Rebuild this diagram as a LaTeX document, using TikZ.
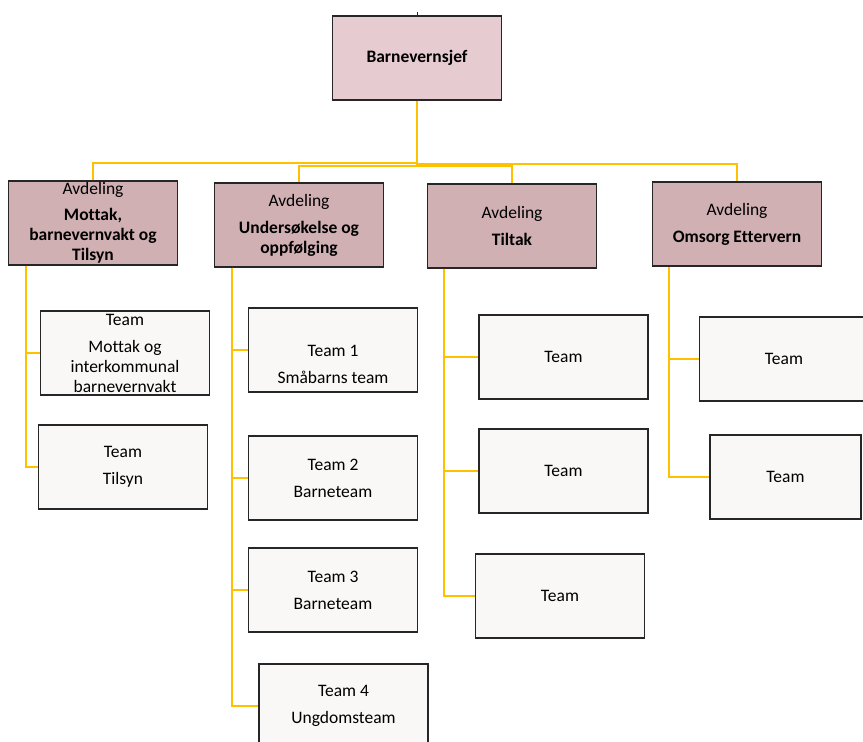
\documentclass[tikz,border=0pt]{standalone}
\usepackage{fontspec}
\setmainfont{Carlito}[Ligatures=NoCommon]
\usetikzlibrary{calc}
\definecolor{chieffill}{HTML}{E6CBD0}
\definecolor{deptfill}{HTML}{D1B0B4}
\definecolor{teamfill}{HTML}{F9F8F6}
\definecolor{linkcol}{HTML}{FFC000}
\definecolor{edgecol}{HTML}{262626}
\tikzset{
  box/.style={draw=edgecol,line width=1.4pt,minimum width=169pt,minimum height=84pt,
    inner sep=0pt,align=center,text=black,font=\fontsize{17.5}{20}\selectfont},
  chief/.style={box,fill=chieffill,font=\fontsize{17.5}{20}\selectfont\bfseries},
  dept/.style={box,fill=deptfill},
  team/.style={box,fill=teamfill},
  link/.style={draw=linkcol,line width=1.7pt},
}

\begin{document}
\begin{tikzpicture}[x=1pt,y=-1pt]
  \useasboundingbox[fill=white] (0,0) rectangle (863,742);

  % top
  \node[chief] (chief) at (417,58) {Barnevernsjef};
  \draw[edgecol,line width=1pt] (chief.north) -- ++(0,-3);

  % avdelinger
  \node[dept] (d1) at (93,223)  {Avdeling\\[6pt]\textbf{Mottak,}\\\textbf{barnevernvakt og}\\\textbf{Tilsyn}};
  \node[dept] (d2) at (299,225) {Avdeling\\[7pt]\textbf{Undersøkelse og}\\\textbf{oppfølging}};
  \node[dept] (d3) at (512,226) {Avdeling\\[7pt]\textbf{Tiltak}};
  \node[dept] (d4) at (737,224) {Avdeling\\[7pt]\textbf{Omsorg Ettervern}};

  % teams
  \node[team] (t1a) at (125,353) {Team\\[7pt]Mottak og\\interkommunal\\barnevernvakt};
  \node[team] (t1b) at (123,467) {Team\\[7pt]Tilsyn};

  \node[team] (t2a) at (333,350)   {\strut\\[7pt]Team 1\\[7pt]Småbarns team};
  \node[team] (t2b) at (333,478)   {Team 2\\[7pt]Barneteam};
  \node[team] (t2c) at (333,590)   {Team 3\\[7pt]Barneteam};
  \node[team] (t2d) at (343.5,706) {Team 4\\[7pt]Ungdomsteam};

  \node[team] (t3a) at (563.5,357) {Team};
  \node[team] (t3b) at (563.5,471) {Team};
  \node[team] (t3c) at (560,596)   {Team};

  \node[team] (t4a) at (784,359) {Team};
  \node[team,minimum width=151pt] (t4b) at (785.5,477) {Team};

  % links from the top
  \coordinate (bus1) at (0,163);
  \coordinate (bus2) at (0,166);
  \coordinate (bus3) at (0,166);
  \coordinate (bus4) at (0,164);
  \foreach \i in {1,2,3,4}
    \draw[link] (chief.south) -- (chief.south |- bus\i) -| (d\i.north);

  % spines down each avdeling
  \coordinate (s1) at ($(d1.south west)+(18.5,0)$);
  \coordinate (s2) at ($(d2.south west)+(18.5,0)$);
  \coordinate (s3) at ($(d3.south west)+(17.5,0)$);
  \coordinate (s4) at ($(d4.south west)+(17.5,0)$);
  \foreach \t in {t1a,t1b} \draw[link] (s1) |- (\t.west);
  \foreach \t in {t2a,t2b,t2c,t2d} \draw[link] (s2) |- (\t.west);
  \foreach \t in {t3a,t3b,t3c} \draw[link] (s3) |- (\t.west);
  \foreach \t in {t4a,t4b} \draw[link] (s4) |- (\t.west);

\end{tikzpicture}
\end{document}
